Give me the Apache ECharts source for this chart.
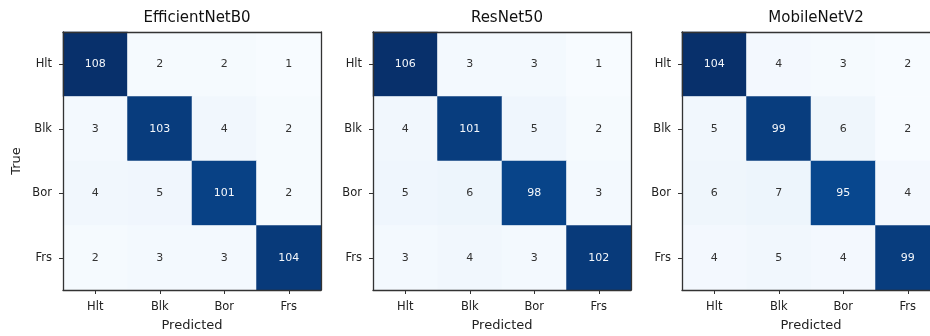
<!DOCTYPE html>
<html>
<head>
<meta charset="utf-8">
<script src="https://cdn.jsdelivr.net/npm/echarts@6/dist/echarts.min.js"></script>
<style>
  html, body { margin: 0; padding: 0; background: #fff; }
  #chart { width: 930px; height: 336px; }
</style>
</head>
<body>
<div id="chart"></div>
<script>
// Class labels (rows = true class, columns = predicted class)
const classes = ['Hlt', 'Blk', 'Bor', 'Frs'];

// Confusion matrices per model
const efficientNetB0 = [
  [108, 2, 2, 1],
  [3, 103, 4, 2],
  [4, 5, 101, 2],
  [2, 3, 3, 104]
];
const resNet50 = [
  [106, 3, 3, 1],
  [4, 101, 5, 2],
  [5, 6, 98, 3],
  [3, 4, 3, 102]
];
const mobileNetV2 = [
  [104, 4, 3, 2],
  [5, 99, 6, 2],
  [6, 7, 95, 4],
  [4, 5, 4, 99]
];

const modelNames = ['EfficientNetB0', 'ResNet50', 'MobileNetV2'];
const matrices = [efficientNetB0, resNet50, mobileNetV2];

// Matplotlib "Blues" colormap stops
const blues = ['#f7fbff', '#deebf7', '#c6dbef', '#9ecae1', '#6baed6',
               '#4292c6', '#2171b5', '#08519c', '#08306b'];

const FONT = 'DejaVu Sans';
const FRAME = '#333';
const panelLeft = [63, 373, 682];
const panelTop = 32;
const panelW = 258;
const panelH = 258;

const grids = [], xAxes = [], yAxes = [], series = [], visualMaps = [], titles = [];

matrices.forEach((m, i) => {
  const flat = m.flat();
  const vmin = Math.min(...flat);
  const vmax = Math.max(...flat);
  const thresh = (vmin + vmax) / 2;

  // Fixed panel boxes; the last one runs past the right edge of the canvas
  grids.push({
    left: panelLeft[i], top: panelTop, width: panelW, height: panelH,
    containLabel: false, outerBoundsMode: 'none'
  });

  titles.push({
    text: modelNames[i],
    left: panelLeft[i] + panelW / 2,
    top: 6,
    textAlign: 'center',
    textStyle: { fontFamily: FONT, fontSize: 15, fontWeight: 'normal', color: '#111' }
  });

  const axisCommon = {
    type: 'category',
    gridIndex: i,
    data: classes,
    z: 10,
    axisLine: { show: true, lineStyle: { color: FRAME, width: 1.3 } },
    axisTick: { show: true, alignWithLabel: true, length: 4, lineStyle: { color: FRAME, width: 1 } },
    axisLabel: { fontFamily: FONT, fontSize: 11.5, color: '#222', margin: 11 },
    splitLine: { show: false },
    nameTextStyle: { fontFamily: FONT, fontSize: 13, color: '#222' }
  };

  // Bottom axis with class labels, plus a bare top axis closing the frame
  xAxes.push(Object.assign({}, axisCommon, {
    position: 'bottom',
    name: 'Predicted',
    nameLocation: 'middle',
    nameGap: 29
  }));
  xAxes.push({
    type: 'category', gridIndex: i, data: classes, position: 'top', z: 10,
    axisLine: { show: true, lineStyle: { color: FRAME, width: 1.3 } },
    axisTick: { show: false }, axisLabel: { show: false }, splitLine: { show: false }
  });

  // Left axis with class labels, plus a bare right axis closing the frame
  yAxes.push(Object.assign({}, axisCommon, {
    position: 'left',
    inverse: true,
    name: i === 0 ? 'True' : '',
    nameLocation: 'middle',
    nameGap: 40
  }));
  yAxes.push({
    type: 'category', gridIndex: i, data: classes, position: 'right', inverse: true, z: 10,
    axisLine: { show: true, lineStyle: { color: FRAME, width: 1.3 } },
    axisTick: { show: false }, axisLabel: { show: false }, splitLine: { show: false }
  });

  const data = [];
  m.forEach((row, r) => {
    row.forEach((v, c) => {
      data.push({
        value: [c, r, v],
        label: { color: v > thresh ? '#f4f7fb' : '#333' }
      });
    });
  });

  visualMaps.push({
    show: false,
    seriesIndex: i,
    dimension: 2,
    min: vmin,
    max: vmax,
    inRange: { color: blues }
  });

  series.push({
    type: 'heatmap',
    xAxisIndex: i * 2,
    yAxisIndex: i * 2,
    data: data,
    label: {
      show: true,
      fontFamily: FONT,
      fontSize: 11,
      formatter: p => String(p.value[2])
    },
    itemStyle: { borderWidth: 0 },
    emphasis: { disabled: true }
  });
});

const chart = echarts.init(document.getElementById('chart'), null, { renderer: 'canvas' });
chart.setOption({
  animation: false,
  backgroundColor: '#fff',
  title: titles,
  grid: grids,
  xAxis: xAxes,
  yAxis: yAxes,
  visualMap: visualMaps,
  series: series
});
</script>
</body>
</html>
